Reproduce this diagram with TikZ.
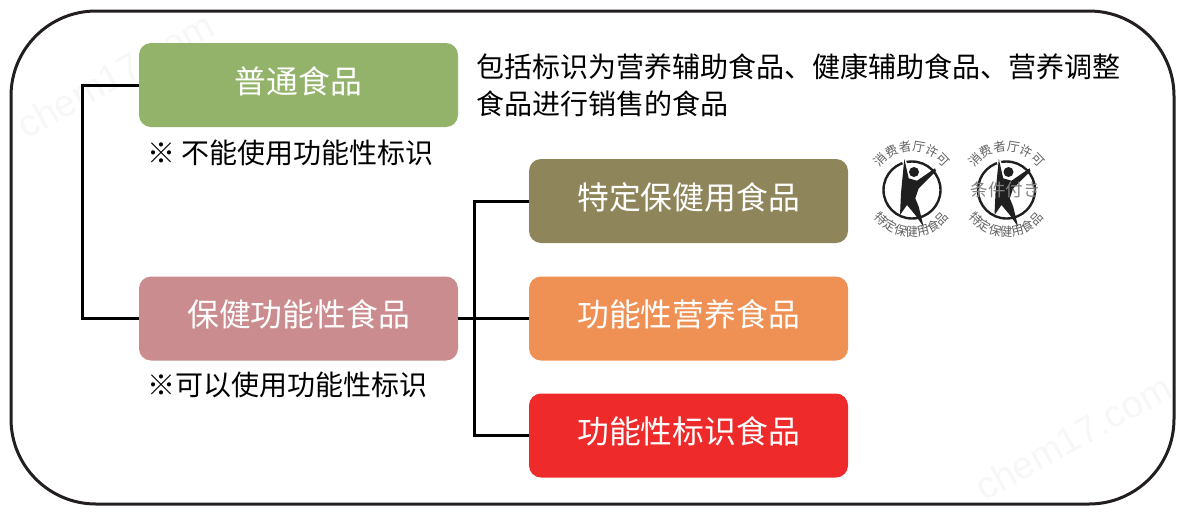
\documentclass[tikz,border=0pt]{standalone}
\usepackage{fontspec}
\setmainfont{Liberation Sans}
\newfontfamily\cjk{Noto Sans CJK SC}
\usetikzlibrary{decorations.text}
\definecolor{frameblack}{HTML}{231F20}
\definecolor{boxgreen}{HTML}{93B26A}
\definecolor{boxolive}{HTML}{8F855B}
\definecolor{boxrose}{HTML}{CB8C8F}
\definecolor{boxorange}{HTML}{EF9054}
\definecolor{boxred}{HTML}{EE2A2A}
\tikzset{
  foodbox/.style={rounded corners=12pt,minimum width=319pt,minimum height=84pt,inner sep=0pt,text=white,font=\cjk\fontsize{31.8}{36}\selectfont},
  notetext/.style={anchor=west,inner sep=0pt,font=\cjk\fontsize{28}{37}\selectfont},
  branch/.style={line width=3pt,black},
  watermark/.style={rotate=29,text=black!3,font=\fontsize{38}{40}\selectfont},
}
\newcommand{\emblemtext}[3]{\path[decorate,decoration={text along path,text align=center,text={|\cjk\fontsize{12.5}{13}\selectfont\color{black!62}|#3}}] #1 #2;}
\begin{document}
\begin{tikzpicture}[x=1pt,y=-1pt]
  \useasboundingbox (0,0) rectangle (1187,515);
  \draw[frameblack,line width=3pt,rounded corners=85pt] (11,11) rectangle (1174,504);
  \node[watermark] (markA) at (115,75) {chem17.com};
  \node[watermark] (markB) at (1073,437) {chem17.com};
  \foreach \n/\x/\y/\c/\t in {normal/298.5/85/boxgreen/普通食品,health/298.5/318.5/boxrose/保健功能性食品,tokutei/688.5/201/boxolive/特定保健用食品,nutrient/688.5/318.5/boxorange/功能性营养食品,label/688.5/435.5/boxred/功能性标识食品}
    \node[foodbox,fill=\c] (\n) at (\x,\y) {\raisebox{-8pt}[0pt][0pt]{\t}};
  \coordinate (trunkA) at (82,0);
  \coordinate (trunkB) at (474,0);
  \draw[branch] (normal.west) -- (normal.west -| trunkA) -- (health.west -| trunkA) -- (health.west);
  \draw[branch] (health.east) -- (nutrient.west);
  \draw[branch] (tokutei.west) -- (tokutei.west -| trunkB) -- (label.west -| trunkB) -- (label.west);
  \node[notetext,align=left] (claim) at (476,85) {包括标识为营养辅助食品、健康辅助食品、营养调整\\食品进行销售的食品};
  \node[notetext] (noteA) at (147,153) {※ 不能使用功能性标识};
  \node[notetext] (noteB) at (147,385) {※可以使用功能性标识};
  % two emblems
  \foreach \ex/\em in {912/A,1006.5/B}{
    \begin{scope}[shift={(\ex,190)}]
      \draw[black!88,line width=2.4pt] (0,0) circle (28.5pt);
      \draw[white,line width=4pt] (-9,-31) -- (-5,-22);
      \fill[black!88] (-7.7,-31) -- (-3.3,-11.7) -- (5,-9.3) -- (23,-21.7) -- (24,-19) -- (6.7,-1.7) -- (3.3,8.3) -- (6.7,16.7) -- (11.7,37) -- (3.3,25) -- (-5,15) -- (-12,25) -- (-11,3) -- cycle;
      \fill[black!88] (2,-18) circle (5pt);
      \emblemtext{(-33,-20)}{arc[start angle=211,end angle=329,x radius=38.5pt,y radius=-38.5pt]}{消费者厅许可}
      \emblemtext{(-41,23)}{arc[start angle=150,end angle=30,x radius=47pt,y radius=-47pt]}{特定保健用食品}
    \end{scope}
  }
  \node[inner sep=0pt,text=black!50,font=\cjk\fontsize{17.5}{18}\selectfont] (expired) at (1005.5,190) {条件付き};
\end{tikzpicture}
\end{document}
